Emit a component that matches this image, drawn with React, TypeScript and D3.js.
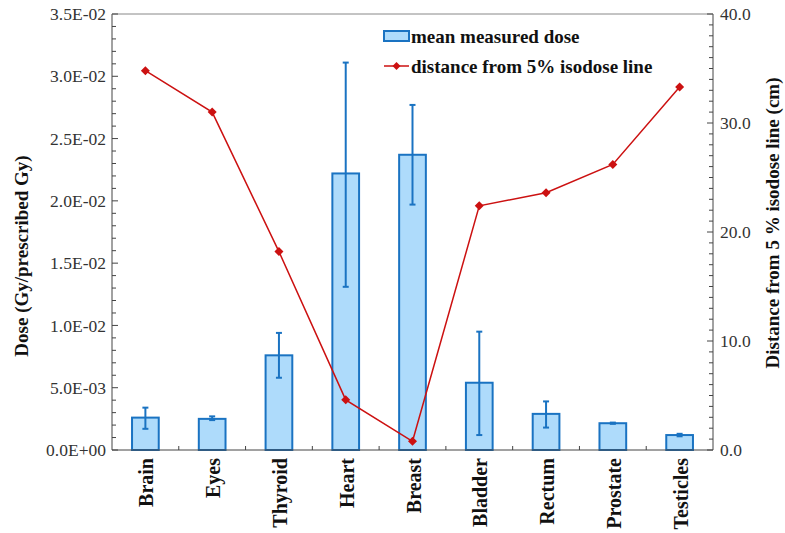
import React from "react";
import * as d3 from "d3";

const categories = ["Brain", "Eyes", "Thyroid", "Heart", "Breast", "Bladder", "Rectum", "Prostate", "Testicles"];
const doseMean = [0.0026, 0.0025, 0.0076, 0.0222, 0.0237, 0.0054, 0.0029, 0.00215, 0.0012];
const doseHigh = [0.0034, 0.0027, 0.0094, 0.0311, 0.0277, 0.0095, 0.0039, 0.0022, 0.0013];
const doseLow = [0.0017, 0.0024, 0.0058, 0.0131, 0.0197, 0.0012, 0.0018, 0.0021, 0.0011];
const distance = [34.8, 31.0, 18.2, 4.6, 0.8, 22.4, 23.6, 26.2, 33.3];
const leftTicks = [0, 0.005, 0.01, 0.015, 0.02, 0.025, 0.03, 0.035];
const rightTicks = [0, 10, 20, 30, 40];

const W = 785, H = 533;
const L = 112, R = 713, T = 14, B = 450;
const BLUE = "#1a73c2";
const FILL = "#aedbfb";
const RED = "#cc1111";
const FONT = "Liberation Serif, Times New Roman, DejaVu Serif, serif";

const fmtSci = (v: number) => {
  if (v === 0) return "0.0E+00";
  const e = Math.floor(Math.log10(v) + 1e-9);
  const m = v / Math.pow(10, e);
  const es = (e < 0 ? "-" : "+") + String(Math.abs(e)).padStart(2, "0");
  return m.toFixed(1) + "E" + es;
};

export default function App() {
  const x = d3.scaleBand<string>().domain(categories).range([L, R]).paddingInner(0).paddingOuter(0);
  const yL = d3.scaleLinear().domain([0, 0.035]).range([B, T]);
  const yR = d3.scaleLinear().domain([0, 40]).range([B, T]);
  const bw = x.bandwidth() * 0.4;
  const cx = (c: string) => (x(c) as number) + x.bandwidth() / 2;

  const minorL = d3.range(0, 0.0351, 0.001);
  const minorR = d3.range(0, 40.01, 1);
  const line = d3.line<number>().x((_, i) => cx(categories[i])).y((d) => yR(d));
  const diamond = (px: number, py: number, s = 4.5) =>
    `M${px},${py - s}L${px + s},${py}L${px},${py + s}L${px - s},${py}Z`;

  return (
    <svg width={W} height={H} style={{ position: "absolute", left: 0, top: 0, background: "#fff", fontFamily: FONT }}>
      <rect x={0} y={0} width={W} height={H} fill="#fff" />
      {categories.map((c, i) => (
        <rect key={c} x={cx(c) - bw / 2} y={yL(doseMean[i])} width={bw} height={B - yL(doseMean[i])}
          fill={FILL} stroke={BLUE} strokeWidth={2} />
      ))}
      {categories.map((c, i) => (
        <g key={c + "e"} stroke={BLUE} strokeWidth={2}>
          <line x1={cx(c)} x2={cx(c)} y1={yL(doseHigh[i])} y2={yL(doseLow[i])} />
          <line x1={cx(c) - 3} x2={cx(c) + 3} y1={yL(doseHigh[i])} y2={yL(doseHigh[i])} />
          <line x1={cx(c) - 3} x2={cx(c) + 3} y1={yL(doseLow[i])} y2={yL(doseLow[i])} />
        </g>
      ))}
      <path d={line(distance) as string} fill="none" stroke={RED} strokeWidth={1.5} />
      {distance.map((d, i) => (
        <path key={i} d={diamond(cx(categories[i]), yR(d))} fill={RED} />
      ))}
      <line x1={L} x2={L} y1={T} y2={B} stroke="#444" strokeWidth={1} />
      <line x1={R} x2={R} y1={T} y2={B} stroke="#444" strokeWidth={1} />
      <line x1={L} x2={R} y1={T} y2={T} stroke="#888" strokeWidth={1} />
      <line x1={L} x2={R} y1={B} y2={B} stroke="#444" strokeWidth={1} />
      {minorL.map((v, i) => (
        <line key={"lm" + i} x1={L} x2={L + (i % 5 === 0 ? 6 : 4)} y1={yL(v)} y2={yL(v)} stroke="#444" />
      ))}
      {leftTicks.map((v) => (
        <text key={"lt" + v} x={L - 6} y={yL(v)} dy="0.35em" textAnchor="end" fontSize={17.5} fill="#333">
          {fmtSci(v)}
        </text>
      ))}
      {minorR.map((v, i) => (
        <line key={"rm" + i} x1={R} x2={R - (i % 10 === 0 ? 6 : 4)} y1={yR(v)} y2={yR(v)} stroke="#444" />
      ))}
      {rightTicks.map((v) => (
        <text key={"rt" + v} x={R + 7} y={yR(v)} dy="0.35em" textAnchor="start" fontSize={17.5} fill="#333">
          {v.toFixed(1)}
        </text>
      ))}
      {categories.slice(1).map((c) => (
        <line key={"xt" + c} x1={x(c) as number} x2={x(c) as number} y1={B} y2={B - 4} stroke="#444" />
      ))}
      {categories.map((c) => (
        <text key={"cl" + c} transform={`translate(${cx(c) + 8},${B + 8}) rotate(-90)`} textAnchor="end"
          fontSize={20} fontWeight="bold" fill="#111">
          {c}
        </text>
      ))}
      <text transform={`translate(28,${256}) rotate(-90)`} textAnchor="middle" fontSize={19} fontWeight="bold" fill="#111">
        Dose (Gy/prescribed Gy)
      </text>
      <text transform={`translate(779,${223}) rotate(-90)`} textAnchor="middle" fontSize={19} fontWeight="bold" fill="#111">
        Distance from 5 % isodose line (cm)
      </text>
      <rect x={384} y={31} width={25} height={10} fill={FILL} stroke={BLUE} strokeWidth={2} />
      <text x={411} y={43} fontSize={19} fontWeight="bold" fill="#111">mean measured dose</text>
      <line x1={384} x2={409} y1={66} y2={66} stroke={RED} strokeWidth={1.5} />
      <path d={diamond(396.5, 66, 4)} fill={RED} />
      <text x={411} y={73} fontSize={19} fontWeight="bold" fill="#111">distance from 5% isodose line</text>
    </svg>
  );
}
